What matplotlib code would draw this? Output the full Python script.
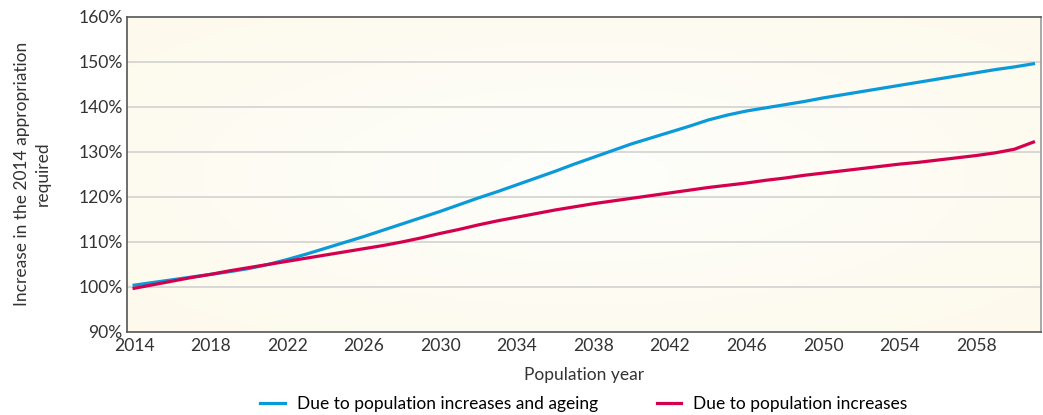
import numpy as np
import matplotlib.pyplot as plt
from matplotlib.ticker import FuncFormatter

plt.rcParams['font.family'] = ['Lato', 'DejaVu Sans']

# Data
years = list(range(2014, 2062))
ageing = [100.3, 100.9, 101.5, 102.1, 102.7, 103.3, 104.0, 104.9, 106.0, 107.2,
          108.5, 109.8, 111.1, 112.5, 113.9, 115.3, 116.7, 118.2, 119.7, 121.1,
          122.6, 124.1, 125.6, 127.2, 128.7, 130.2, 131.7, 133.0, 134.3, 135.6,
          137.0, 138.1, 139.0, 139.7, 140.4, 141.1, 141.9, 142.6, 143.3, 144.0,
          144.7, 145.4, 146.1, 146.8, 147.5, 148.2, 148.8, 149.5]
population = [99.6, 100.4, 101.2, 102.0, 102.7, 103.5, 104.2, 104.9, 105.6, 106.3,
              107.0, 107.7, 108.4, 109.1, 109.9, 110.8, 111.8, 112.7, 113.7, 114.6,
              115.4, 116.2, 117.0, 117.7, 118.4, 119.0, 119.6, 120.2, 120.8, 121.4,
              122.0, 122.5, 123.0, 123.6, 124.1, 124.7, 125.2, 125.7, 126.2, 126.7,
              127.2, 127.6, 128.1, 128.6, 129.1, 129.7, 130.5, 132.1]
xticks = list(range(2014, 2062, 4))
yticks = list(range(90, 161, 10))

fs = 12.5
txt = '#333333'

fig = plt.figure(figsize=(10.43, 4.15), dpi=100)
ax = fig.add_axes([0.1218, 0.2012, 0.8762, 0.7590])

xmin, xmax = 2013.63, 2061.39
ymin, ymax = 90, 160

# cream radial background
gx, gy = np.meshgrid(np.linspace(-1, 1, 400), np.linspace(-1, 1, 200))
r = np.clip(np.sqrt(gx**2 + gy**2) / 1.3, 0, 1)
c_in = np.array([254, 254, 251]) / 255
c_out = np.array([253, 250, 237]) / 255
img = c_in[None, None, :] * (1 - r[..., None]) + c_out[None, None, :] * r[..., None]
ax.imshow(img, extent=[xmin, xmax, ymin, ymax], aspect='auto', zorder=0)

for y in yticks[1:-1]:
    ax.axhline(y, color='#d2d2d2', lw=1.2, zorder=1)

ax.plot(years, ageing, color='#0b9ad9', lw=2.3, zorder=3,
        label='Due to population increases and ageing')
ax.plot(years, population, color='#d4004e', lw=2.3, zorder=3,
        label='Due to population increases')

ax.set_xlim(xmin, xmax)
ax.set_ylim(ymin, ymax)
ax.set_xticks(xticks)
ax.set_yticks(yticks)
ax.yaxis.set_major_formatter(FuncFormatter(lambda v, p: f'{v:.0f}%'))
ax.tick_params(length=0, labelsize=12.6, colors=txt, pad=3)
ax.tick_params(axis='x', pad=5)
for s in ax.spines.values():
    s.set_color('#555555')
    s.set_linewidth(1.2)
ax.spines['right'].set_color('#999999')

ax.set_xlabel('Population year', fontsize=fs, color=txt)
ax.xaxis.set_label_coords(0.5, -0.112)
ax.set_ylabel('Increase in the 2014 appropriation\nrequired', fontsize=fs,
              color=txt, linespacing=1.3)
ax.yaxis.set_label_coords(-0.084, 0.5)

fig.legend(*ax.get_legend_handles_labels(), loc='center',
           bbox_to_anchor=(0.56, 0.027), ncol=2, frameon=False,
           fontsize=fs, handlelength=1.4, columnspacing=3.4, handletextpad=0.7,
           borderaxespad=0, borderpad=0)

fig.savefig('out.png', dpi=100)
